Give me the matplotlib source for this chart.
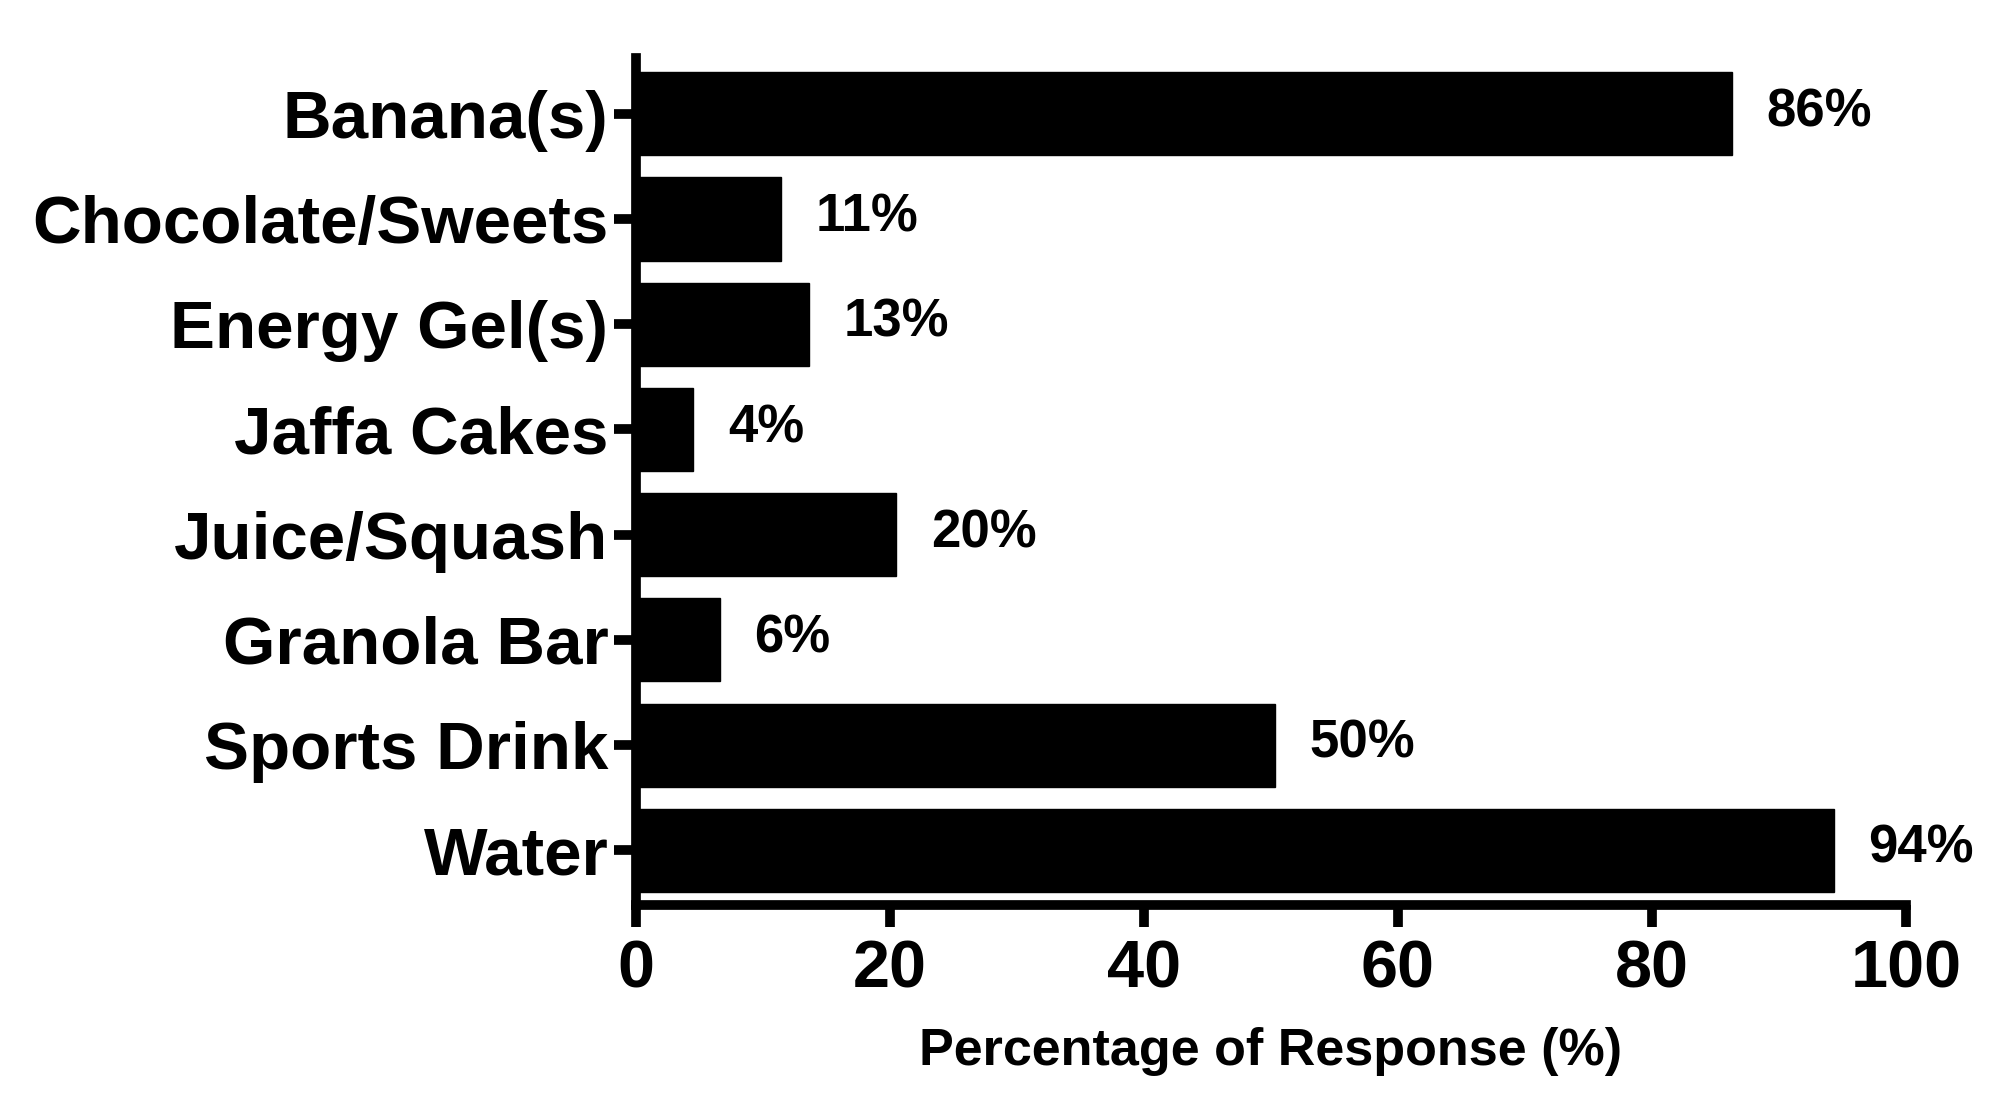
"""Horizontal bar chart: foods/drinks consumed, percentage of response."""

import matplotlib

matplotlib.use("Agg")
import matplotlib.pyplot as plt


categories = [
    "Banana(s)",
    "Chocolate/Sweets",
    "Energy Gel(s)",
    "Jaffa Cakes",
    "Juice/Squash",
    "Granola Bar",
    "Sports Drink",
    "Water",
]
percent = [86.3, 11.4, 13.6, 4.5, 20.5, 6.6, 50.3, 94.3]
value_labels = ["86%", "11%", "13%", "4%", "20%", "6%", "50%", "94%"]
x_ticks = [0, 20, 40, 60, 80, 100]


def setup_matplotlib() -> None:
    plt.rcParams["font.family"] = ["Liberation Sans", "DejaVu Sans"]
    plt.rcParams["font.weight"] = "bold"
    plt.rcParams["axes.linewidth"] = 7.0


def main() -> None:
    setup_matplotlib()

    fig = plt.figure(figsize=(20.09, 11.19), dpi=100)
    ax = fig.add_axes([0.3166, 0.1912, 0.6321, 0.757])

    y = list(range(len(categories)))
    ax.barh(y, percent, height=0.79, color="black", edgecolor="black", linewidth=1.0)

    for yi, val, lab in zip(y, percent, value_labels):
        ax.annotate(
            lab,
            xy=(val, yi),
            xytext=(25, 1),
            textcoords="offset points",
            va="center",
            ha="left",
            fontsize=38,
            fontweight="bold",
        )

    ax.set_xlim(0, 100)
    ax.set_ylim(len(categories) - 0.48, -0.53)
    ax.set_xticks(x_ticks)
    ax.set_xticklabels([str(t) for t in x_ticks])
    ax.set_yticks(y)
    ax.set_yticklabels(categories)

    ax.spines["top"].set_visible(False)
    ax.spines["right"].set_visible(False)

    ax.tick_params(axis="x", length=16, width=7, pad=9, labelsize=48)
    ax.tick_params(axis="y", length=16, width=7, pad=4, labelsize=48.5)

    ax.set_xlabel("Percentage of Response (%)", fontsize=37.5, fontweight="bold", labelpad=18)

    fig.savefig("out.png", dpi=100)
    plt.close(fig)


if __name__ == "__main__":
    main()
